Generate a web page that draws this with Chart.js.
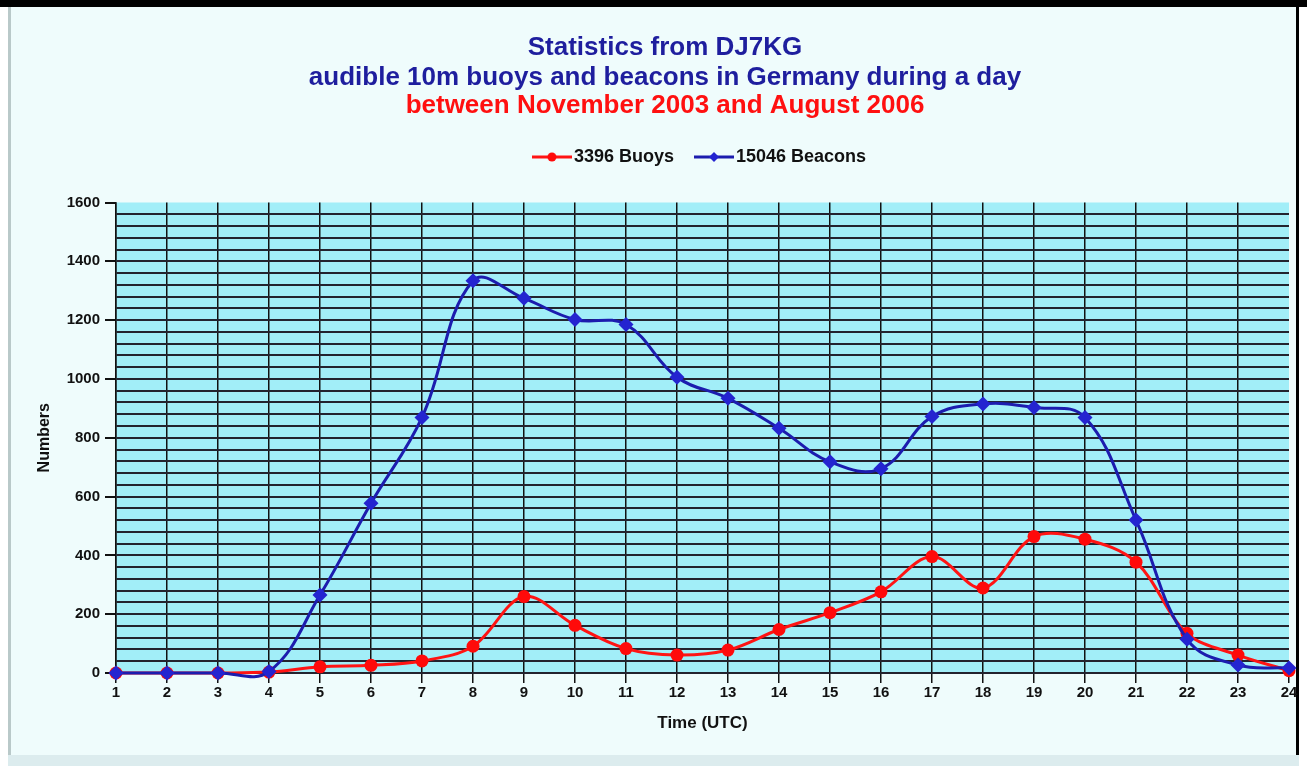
<!DOCTYPE html>
<html>
<head>
<meta charset="utf-8">
<script src="https://cdn.jsdelivr.net/npm/chart.js@4"></script>
<style>
  html, body { margin: 0; padding: 0; background: #ffffff; }
  .topbar { position: absolute; left: 0; top: 0; width: 1307px; height: 7px; background: #000; }
  .frame { position: absolute; left: 8px; top: 7px; width: 1285px; height: 748px;
           background: #effcfc; border-left: 3px solid #b9c9c9; border-right: 3px solid #000; }
  .floor { position: absolute; left: 8px; top: 755px; width: 1291px; height: 11px; background: #dcecee; }
  #chart { position: absolute; left: 0; top: 0; }
</style>
</head>
<body>
<div class="topbar"></div>
<div class="frame"></div>
<div class="floor"></div>
<canvas id="chart" width="1307" height="766"></canvas>
<script>
  // hours of the day (UTC)
  var hours = ["1", "2", "3", "4", "5", "6", "7", "8", "9", "10", "11", "12",
               "13", "14", "15", "16", "17", "18", "19", "20", "21", "22", "23", "24"];
  var buoys = [0, 0, 0, 3, 21, 26, 41, 91, 260, 162, 83, 61,
               78, 148, 205, 276, 396, 289, 464, 455, 377, 135, 61, 8];
  var beacons = [0, 0, 0, 5, 265, 577, 869, 1334, 1274, 1202, 1185, 1006,
                 934, 832, 718, 695, 872, 915, 903, 869, 520, 115, 27, 17];
  var seriesNames = ["3396 Buoys", "15046 Beacons"];
  var yMax = 1600;
  var yMinorStep = 40;
  var yLabelStep = 200;

  var blueLine = "#1c1cae";
  var blueMark = "#2424d0";
  var redLine = "#ff1414";
  var redMark = "#ff0a0a";
  var gridDark = "#23232f";
  var font = "'Liberation Sans', Arial, sans-serif";

  // legend sample: short line with the marker in the middle
  function legendIcon(color, markColor, style) {
    var c = document.createElement("canvas");
    c.width = 40; c.height = 14;
    var g = c.getContext("2d");
    g.strokeStyle = color; g.lineWidth = 3;
    g.beginPath(); g.moveTo(0, 7); g.lineTo(40, 7); g.stroke();
    g.fillStyle = markColor;
    g.beginPath();
    if (style === "circle") {
      g.arc(20, 7, 4.5, 0, Math.PI * 2);
    } else {
      g.moveTo(20, 2); g.lineTo(25, 7); g.lineTo(20, 12); g.lineTo(15, 7); g.closePath();
    }
    g.fill();
    return c;
  }
  var icons = [legendIcon(redLine, redMark, "circle"), legendIcon(blueLine, blueMark, "diamond")];

  var plotBg = {
    id: "plotBg",
    beforeDraw: function (chart) {
      var a = chart.chartArea, ctx = chart.ctx;
      ctx.save();
      ctx.fillStyle = "#a2eef8";
      ctx.fillRect(a.left, a.top, a.right - a.left, a.bottom - a.top);
      ctx.restore();
    }
  };

  new Chart(document.getElementById("chart"), {
    type: "line",
    data: {
      labels: hours,
      datasets: [
        {
          label: seriesNames[0],
          data: buoys,
          xAxisID: "x",
          order: 1,
          borderColor: redLine,
          backgroundColor: redMark,
          borderWidth: 3,
          pointStyle: "circle",
          pointRadius: 6.5,
          pointBorderWidth: 0,
          pointBackgroundColor: redMark,
          tension: 0.35,
          clip: false
        },
        {
          label: seriesNames[1],
          data: beacons,
          xAxisID: "x",
          order: 0,
          borderColor: blueLine,
          backgroundColor: blueMark,
          borderWidth: 3,
          pointStyle: "rectRot",
          pointRadius: 7.5,
          pointBorderWidth: 0,
          pointBackgroundColor: blueMark,
          tension: 0.4,
          clip: false
        }
      ]
    },
    options: {
      responsive: false,
      animation: false,
      elements: { line: { capBezierPoints: false } },
      layout: { padding: { left: 41, right: 18, top: 0, bottom: 28 } },
      scales: {
        x: {
          type: "category",
          offset: false,
          afterFit: function (s) { s.height = 65; },
          grid: {
            color: function (ctx) { return ctx.index === hours.length - 1 ? "rgba(0,0,0,0)" : "#111"; },
            lineWidth: 1.5,
            tickLength: 10,
            tickColor: "#111"
          },
          border: { color: gridDark, width: 2 },
          ticks: {
            autoSkip: false,
            maxRotation: 0,
            padding: 1,
            color: "#111",
            font: { family: font, size: 15, weight: "bold" }
          },
          title: {
            display: true,
            text: "Time (UTC)",
            color: "#111",
            padding: { top: 0, bottom: 4 },
            font: { family: font, size: 17, weight: "bold" }
          }
        },
        xTop: {
          type: "linear",
          position: "top",
          afterFit: function (s) { s.height = 26.5; },
          grid: { display: false },
          border: { display: false },
          ticks: { display: false }
        },
        y: {
          min: 0,
          max: yMax,
          afterFit: function (s) { s.width = 75; },
          grid: {
            color: function (ctx) { return ctx.tick.value === yMax ? "rgba(0,0,0,0)" : gridDark; },
            lineWidth: 2,
            tickLength: 11,
            tickColor: function (ctx) { return ctx.tick.value % yLabelStep === 0 ? "#111" : "rgba(0,0,0,0)"; }
          },
          border: { color: "#111", width: 1.5 },
          ticks: {
            stepSize: yMinorStep,
            autoSkip: false,
            padding: 5,
            color: "#111",
            font: { family: font, size: 15, weight: "bold" },
            callback: function (v) { return v % yLabelStep === 0 ? v : ""; }
          },
          title: {
            display: true,
            text: "Numbers",
            color: "#111",
            padding: { top: -6, bottom: 0 },
            font: { family: font, size: 16, weight: "bold" }
          }
        }
      },
      plugins: {
        title: {
          display: true,
          text: ["Statistics from DJ7KG", "audible 10m buoys and beacons in Germany during a day"],
          color: "#1e1e9e",
          padding: { top: 33, bottom: 0 },
          font: { family: font, size: 26, weight: "bold", lineHeight: 30 / 26 }
        },
        subtitle: {
          display: true,
          text: "between November 2003 and August 2006",
          color: "#ff1010",
          padding: { top: -1, bottom: 1 },
          font: { family: font, size: 26, weight: "bold", lineHeight: 28 / 26 }
        },
        legend: {
          display: true,
          position: "top",
          fullSize: false,
          labels: {
            usePointStyle: true,
            pointStyleWidth: 26,
            padding: 27,
            color: "#111",
            font: { family: font, size: 18, weight: "bold" },
            sort: function (a, b) { return a.datasetIndex - b.datasetIndex; },
            generateLabels: function (chart) {
              var items = Chart.defaults.plugins.legend.labels.generateLabels(chart);
              items.forEach(function (it) { it.pointStyle = icons[it.datasetIndex]; });
              return items;
            }
          }
        },
        tooltip: { enabled: false }
      }
    },
    plugins: [plotBg]
  });
</script>
</body>
</html>
